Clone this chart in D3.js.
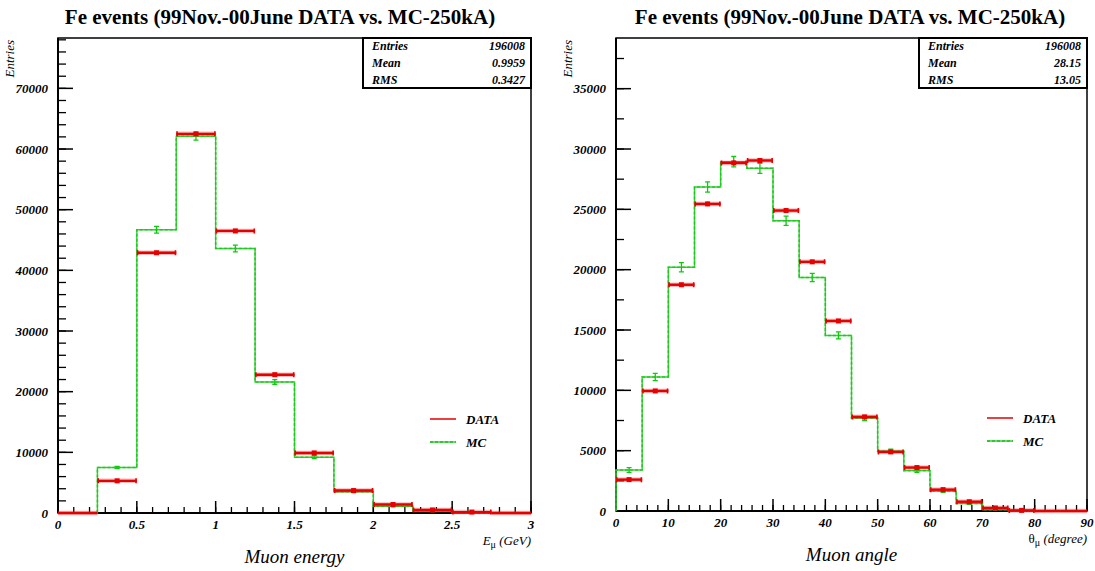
<!DOCTYPE html>
<html>
<head>
<meta charset="utf-8">
<script src="https://cdn.jsdelivr.net/npm/d3@7"></script>
<style>
  body { margin: 0; background: #fff; }
  svg { display: block; }
  text { font-family: "Liberation Serif", "Times New Roman", serif; }
</style>
</head>
<body>
<script>
"use strict";

// ---- data ----
const titleText = "Fe events (99Nov.-00June DATA vs. MC-250kA)";

// muon energy histogram (GeV), bin edges
const energyEdges = [0, 0.25, 0.5, 0.75, 1.0, 1.25, 1.5, 1.75, 2.0, 2.25, 2.5, 2.75, 3.0];
const energyData = [0, 5300, 42900, 62500, 46500, 22800, 9900, 3700, 1400, 500, 150, 0];
const energyDataErr = [0, 120, 300, 350, 300, 200, 150, 90, 60, 30, 20, 0];
const energyMC = [0, 7500, 46700, 62100, 43600, 21600, 9200, 3500, 1100, 300, 50, 0];
const energyMCErr = [0, 200, 550, 650, 550, 380, 250, 150, 90, 50, 20, 0];
const energyXTicks = [0, 0.5, 1, 1.5, 2, 2.5, 3];
const energyXLabels = ["0", "0.5", "1", "1.5", "2", "2.5", "3"];
const energyYTicks = [0, 10000, 20000, 30000, 40000, 50000, 60000, 70000];
const energyStats = [["Entries", "196008"], ["Mean", "0.9959"], ["RMS", "0.3427"]];

// muon angle histogram (degree), bin edges
const angleEdges = [0, 5, 10, 15, 20, 25, 30, 35, 40, 45, 50, 55, 60, 65, 70, 75, 80, 85, 90];
const angleData = [2600, 9950, 18750, 25450, 28850, 29050, 24900, 20650, 15750, 7800, 4900, 3600, 1770, 770, 250, 50, 0, 0];
const angleDataErr = [60, 120, 160, 180, 200, 200, 180, 160, 140, 100, 80, 70, 50, 30, 20, 10, 0, 0];
const angleMC = [3400, 11100, 20200, 26850, 28950, 28400, 24050, 19350, 14550, 7700, 4950, 3350, 1650, 620, 110, 15, 0, 0];
const angleMCErr = [200, 300, 380, 420, 430, 420, 380, 340, 290, 200, 170, 140, 100, 60, 25, 10, 0, 0];
const angleXTicks = [0, 10, 20, 30, 40, 50, 60, 70, 80, 90];
const angleXLabels = ["0", "10", "20", "30", "40", "50", "60", "70", "80", "90"];
const angleYTicks = [0, 5000, 10000, 15000, 20000, 25000, 30000, 35000];
const angleStats = [["Entries", "196008"], ["Mean", "28.15"], ["RMS", "13.05"]];

const legendNames = ["DATA", "MC"];

const RED = "#e60000";
const GREEN = "#1ee01e";

const svg = d3.select("body").append("svg")
    .attr("width", 1095)
    .attr("height", 571);

const panels = [
    {
        left: 58, right: 531, top: 38, bottom: 513, titleX: 280,
        edges: energyEdges, data: energyData, dataErr: energyDataErr, mc: energyMC, mcErr: energyMCErr,
        xMax: 3, yMax: 78300, xTicks: energyXTicks, xLabels: energyXLabels, xMinor: 0.1,
        yTicks: energyYTicks, yMinor: 2000, stats: energyStats,
        xTitle: ["E", "μ", " (GeV)"], xTitleItalic: true, title: "Muon energy", legX: 430, legY: 419
    },
    {
        left: 616, right: 1087, top: 38, bottom: 511, titleX: 850,
        edges: angleEdges, data: angleData, dataErr: angleDataErr, mc: angleMC, mcErr: angleMCErr,
        xMax: 90, yMax: 39200, xTicks: angleXTicks, xLabels: angleXLabels, xMinor: 2,
        yTicks: angleYTicks, yMinor: 2500, stats: angleStats,
        xTitle: ["θ", "μ", " (degree)"], xTitleItalic: false, title: "Muon angle", legX: 987, legY: 418
    }
];

panels.forEach(drawPanel);

function drawPanel(p) {
    const g = svg.append("g");

    const x = d3.scaleLinear().domain([0, p.xMax]).range([p.left, p.right]);
    const y = d3.scaleLinear().domain([0, p.yMax]).range([p.bottom, p.top]);

    // title
    svg.append("text")
        .attr("x", p.titleX)
        .attr("y", 24)
        .attr("text-anchor", "middle")
        .style("font-size", "21px")
        .style("font-weight", "bold")
        .text(titleText);

    // frame
    g.append("rect")
        .attr("x", p.left).attr("y", p.top)
        .attr("width", p.right - p.left).attr("height", p.bottom - p.top)
        .attr("fill", "none").attr("stroke", "#000").attr("stroke-width", 1.5);

    // y ticks, minor then major
    const yMinorTicks = d3.range(0, p.yMax + 1, p.yMinor);
    g.selectAll(".ymin").data(yMinorTicks).enter().append("line")
        .attr("x1", p.left).attr("x2", p.left + 8)
        .attr("y1", d => y(d)).attr("y2", d => y(d))
        .attr("stroke", "#000").attr("stroke-width", 1.3);
    g.selectAll(".ymaj").data(p.yTicks).enter().append("line")
        .attr("x1", p.left).attr("x2", p.left + 15)
        .attr("y1", d => y(d)).attr("y2", d => y(d))
        .attr("stroke", "#000").attr("stroke-width", 1.5);
    g.selectAll(".ylab").data(p.yTicks).enter().append("text")
        .attr("x", p.left - 10)
        .attr("y", d => y(d) + 4.5)
        .attr("text-anchor", "end")
        .style("font-size", "13px")
        .style("font-style", "italic")
        .style("font-weight", "bold")
        .text(d => d);

    // x ticks
    const xMinorTicks = d3.range(0, p.xMax + 1e-9, p.xMinor);
    g.selectAll(".xmin").data(xMinorTicks).enter().append("line")
        .attr("x1", d => x(d)).attr("x2", d => x(d))
        .attr("y1", p.bottom).attr("y2", p.bottom - 6)
        .attr("stroke", "#000").attr("stroke-width", 1.3);
    g.selectAll(".xmaj").data(p.xTicks).enter().append("line")
        .attr("x1", d => x(d)).attr("x2", d => x(d))
        .attr("y1", p.bottom).attr("y2", p.bottom - 12)
        .attr("stroke", "#000").attr("stroke-width", 1.5);
    g.selectAll(".xlab").data(p.xTicks).enter().append("text")
        .attr("x", d => x(d))
        .attr("y", p.bottom + 16)
        .attr("text-anchor", "middle")
        .style("font-size", "13px")
        .style("font-style", "italic")
        .style("font-weight", "bold")
        .text((d, i) => p.xLabels[i]);

    // thicker axis lines
    g.append("line").attr("x1", p.left).attr("x2", p.left).attr("y1", p.top).attr("y2", p.bottom)
        .attr("stroke", "#000").attr("stroke-width", 2);
    g.append("line").attr("x1", p.left).attr("x2", p.right).attr("y1", p.bottom).attr("y2", p.bottom)
        .attr("stroke", "#000").attr("stroke-width", 2);

    // axis titles
    g.append("text")
        .attr("transform", `translate(${p.left - 44},${p.top + 2}) rotate(-90)`)
        .attr("text-anchor", "end")
        .style("font-size", "13px")
        .style("font-style", "italic")
        .text("Entries");

    const xt = g.append("text")
        .attr("x", p.right)
        .attr("y", p.bottom + 32)
        .attr("text-anchor", "end")
        .style("font-size", "13px")
        .style("font-style", "italic");
    xt.append("tspan").style("font-style", p.xTitleItalic ? "italic" : "normal").text(p.xTitle[0]);
    xt.append("tspan").attr("dy", 3).style("font-size", "10px").style("font-style", "normal").text(p.xTitle[1]);
    xt.append("tspan").attr("dy", -3).text(p.xTitle[2]);

    g.append("text")
        .attr("x", (p.left + p.right) / 2)
        .attr("y", p.bottom + 50)
        .attr("text-anchor", "middle")
        .style("font-size", "19px")
        .style("font-style", "italic")
        .text(p.title);

    // MC histogram outline (step)
    const bins = p.mc.map((v, i) => ({ lo: p.edges[i], hi: p.edges[i + 1], mc: v, mcErr: p.mcErr[i], data: p.data[i], dataErr: p.dataErr[i] }));
    let pts = [[x(p.edges[0]), y(0)]];
    bins.forEach(b => {
        pts.push([x(b.lo), y(b.mc)]);
        pts.push([x(b.hi), y(b.mc)]);
    });
    pts.push([x(p.edges[p.edges.length - 1]), y(0)]);
    const line = d3.line();
    g.append("path").attr("d", line(pts))
        .attr("fill", "none").attr("stroke", GREEN).attr("stroke-width", 1.4);
    g.append("path").attr("d", line(pts))
        .attr("fill", "none").attr("stroke", "#2fb52f").attr("stroke-width", 1.6)
        .attr("stroke-dasharray", "3,2").attr("opacity", 0.8);

    // MC error bars
    const mcBins = bins.filter(b => b.mc > 0);
    g.selectAll(".mcerr").data(mcBins).enter().append("path")
        .attr("d", b => {
            const cx = x((b.lo + b.hi) / 2), y1 = y(b.mc - b.mcErr), y2 = y(b.mc + b.mcErr);
            return `M${cx},${y1}V${y2}M${cx - 2.5},${y1}H${cx + 2.5}M${cx - 2.5},${y2}H${cx + 2.5}`;
        })
        .attr("fill", "none").attr("stroke", "#10c810").attr("stroke-width", 1.3);

    // DATA horizontal bars
    g.selectAll(".dhalo").data(bins).enter().append("line")
        .attr("x1", b => x(b.lo)).attr("x2", b => x(b.hi))
        .attr("y1", b => y(b.data)).attr("y2", b => y(b.data))
        .attr("stroke", "rgba(220,60,60,0.35)").attr("stroke-width", 4.5);
    g.selectAll(".dbar").data(bins).enter().append("line")
        .attr("x1", b => x(b.lo)).attr("x2", b => x(b.hi))
        .attr("y1", b => y(b.data)).attr("y2", b => y(b.data))
        .attr("stroke", RED).attr("stroke-width", 2.4);
    const dBins = bins.filter(b => b.data > 0);
    g.selectAll(".dcap").data(dBins).enter().append("path")
        .attr("d", b => {
            const yy = y(b.data), x1 = x(b.lo), x2 = x(b.hi);
            return `M${x1 + 0.8},${yy - 2.5}V${yy + 2.5}M${x2 - 0.8},${yy - 2.5}V${yy + 2.5}`;
        })
        .attr("stroke", RED).attr("stroke-width", 1.6);
    g.selectAll(".derr").data(dBins).enter().append("line")
        .attr("x1", b => x((b.lo + b.hi) / 2)).attr("x2", b => x((b.lo + b.hi) / 2))
        .attr("y1", b => y(b.data - b.dataErr)).attr("y2", b => y(b.data + b.dataErr))
        .attr("stroke", RED).attr("stroke-width", 1.5);
    g.selectAll(".dmark").data(dBins).enter().append("rect")
        .attr("x", b => x((b.lo + b.hi) / 2) - 2.5)
        .attr("y", b => y(b.data) - 2.5)
        .attr("width", 5).attr("height", 5)
        .attr("fill", RED);

    // stats box
    const sb = { x0: p.right - 168, y0: p.top, w: 168, h: 50 };
    g.append("rect")
        .attr("x", sb.x0).attr("y", sb.y0).attr("width", sb.w).attr("height", sb.h)
        .attr("fill", "#fff").attr("stroke", "#000").attr("stroke-width", 2);
    p.stats.forEach((s, i) => {
        g.append("text")
            .attr("x", sb.x0 + 9).attr("y", sb.y0 + 12 + i * 17)
            .style("font-size", "12px").style("font-style", "italic").style("font-weight", "bold")
            .text(s[0]);
        g.append("text")
            .attr("x", sb.x0 + sb.w - 6).attr("y", sb.y0 + 12 + i * 17)
            .attr("text-anchor", "end")
            .style("font-size", "12px").style("font-style", "italic").style("font-weight", "bold")
            .text(s[1]);
    });

    // legend
    legendNames.forEach((name, i) => {
        const ly = p.legY + i * 23;
        if (i === 0) {
            g.append("line").attr("x1", p.legX).attr("x2", p.legX + 26).attr("y1", ly).attr("y2", ly)
                .attr("stroke", RED).attr("stroke-width", 1.5);
        } else {
            g.append("line").attr("x1", p.legX).attr("x2", p.legX + 26).attr("y1", ly).attr("y2", ly)
                .attr("stroke", GREEN).attr("stroke-width", 1.5);
            g.append("line").attr("x1", p.legX).attr("x2", p.legX + 26).attr("y1", ly).attr("y2", ly)
                .attr("stroke", "#2fb52f").attr("stroke-width", 1.5).attr("stroke-dasharray", "3,2");
        }
        g.append("text")
            .attr("x", p.legX + 36).attr("y", ly + 5)
            .style("font-size", "13px").style("font-style", "italic").style("font-weight", "bold")
            .text(name);
    });
}
</script>
</body>
</html>
